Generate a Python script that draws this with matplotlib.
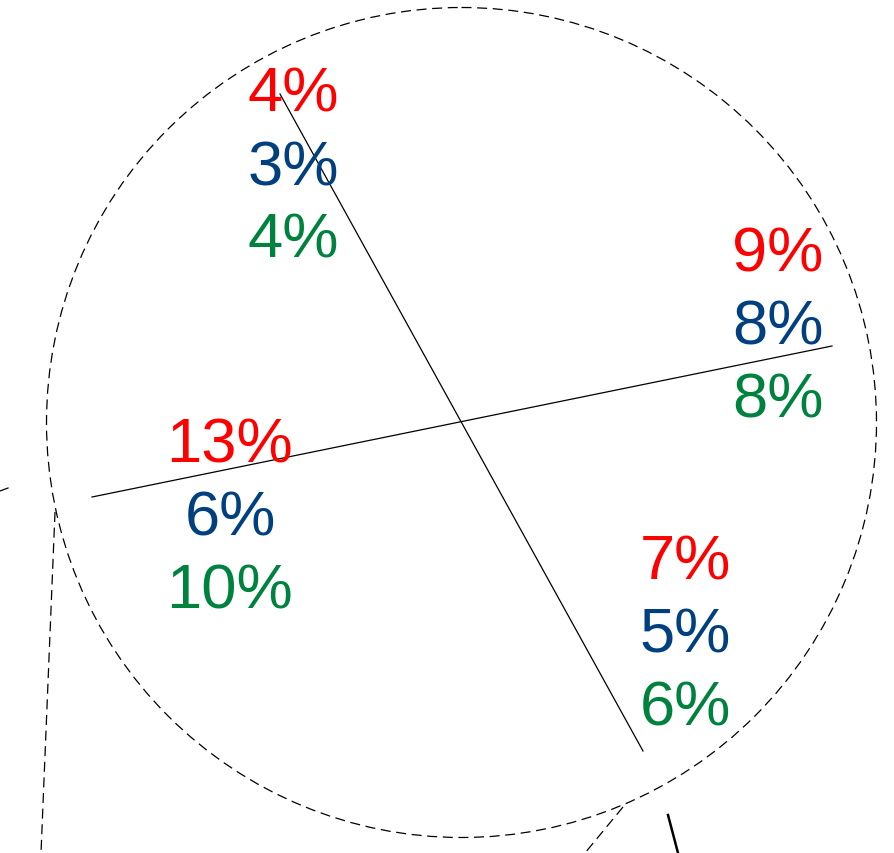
import matplotlib
matplotlib.use("Agg")
import matplotlib.pyplot as plt
from matplotlib.patches import Circle

# Label groups: (center x, first baseline y) and values for the three series
group_names = ["top", "right", "left", "bottom_right"]
red_vals = ["4%", "9%", "13%", "7%"]
blue_vals = ["3%", "8%", "6%", "5%"]
green_vals = ["4%", "8%", "10%", "6%"]
group_x = [293, 778, 230, 685]
group_y = [112, 272, 463, 580]
line_gap = 73

series_colors = ["#FF0000", "#00407F", "#00823F"]

# Diagram geometry (pixel space)
circle_center = (461.5, 423.5)
circle_radius = 415
solid_lines = [((280, 95), (643, 752)), ((92, 498), (832, 347)), ((0, 492), (8, 489))]
thick_lines = [((668, 816), (678, 854))]
dashed_lines = [((55, 513), (41, 854)), ((623, 808), (585, 854))]

W, H = 895, 854
fig = plt.figure(figsize=(W / 100, H / 100), dpi=100)
ax = fig.add_axes([0, 0, 1, 1])
ax.set_xlim(0, W)
ax.set_ylim(H, 0)
ax.axis("off")

dash = (0, (8, 4.5))
ax.add_patch(Circle(circle_center, circle_radius, fill=False, ec="black",
                    lw=0.9, ls=dash))
for (x0, y0), (x1, y1) in solid_lines:
    ax.plot([x0, x1], [y0, y1], color="black", lw=0.9)
for (x0, y0), (x1, y1) in thick_lines:
    ax.plot([x0, x1], [y0, y1], color="black", lw=1.8)
for (x0, y0), (x1, y1) in dashed_lines:
    ax.plot([x0, x1], [y0, y1], color="black", lw=0.9, ls=dash)

for i in range(len(group_names)):
    vals = [red_vals[i], blue_vals[i], green_vals[i]]
    for j, (v, c) in enumerate(zip(vals, series_colors)):
        ax.text(group_x[i], group_y[i] + j * line_gap, v, color=c,
                fontsize=45.5, family="Liberation Sans",
                ha="center", va="baseline")

fig.savefig("out.png", dpi=100)
